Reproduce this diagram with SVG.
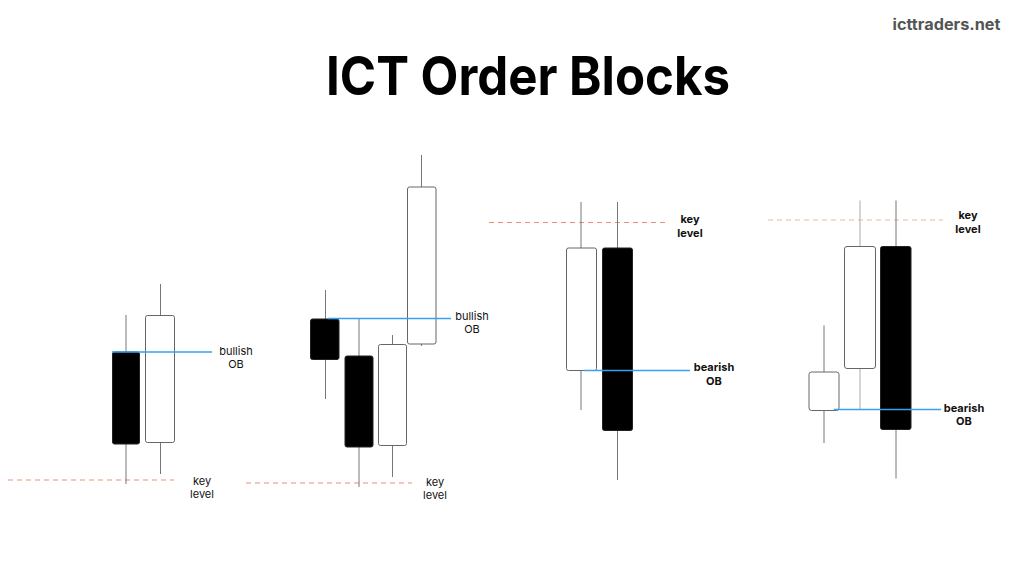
<svg xmlns="http://www.w3.org/2000/svg" width="1024" height="576" viewBox="0 0 1024 576">
<style>
.wick{stroke:#777;stroke-width:1}
.wl{stroke:#aaa;stroke-width:1}
.bull{fill:#fff;stroke:#666;stroke-width:1}
.bear{fill:#000;stroke:#222;stroke-width:1}
.key{stroke:#f28b78;stroke-width:1;stroke-dasharray:5 4;fill:none}
.keyl{stroke:#f6b3a6;stroke-width:1;stroke-dasharray:5 4;fill:none}
.ob{stroke:#3a9ff0;stroke-width:1.5}
.lbl{font-family:Inter,"Liberation Sans",Arial,sans-serif;font-size:11px;fill:#111;text-anchor:middle}
.b{font-weight:bold}
</style>
<rect width="1024" height="576" fill="#fff"/>
<text x="892.5" y="30" font-family="Inter,Liberation Sans,Arial,sans-serif" font-weight="bold" font-size="15.5" fill="#555" textLength="108" lengthAdjust="spacingAndGlyphs">icttraders.net</text>
<text x="326" y="95" font-family="Inter,Liberation Sans,Arial,sans-serif" font-weight="bold" font-size="54" fill="#000" textLength="404" lengthAdjust="spacingAndGlyphs">ICT Order Blocks</text>

<g id="connectors">
<line class="key" x1="8" y1="480" x2="174" y2="480"/>
<line class="key" x1="246" y1="483" x2="412" y2="483"/>
<line class="key" x1="489" y1="222.5" x2="667" y2="222.5"/>
<line class="keyl" x1="768" y1="220" x2="943" y2="220"/>
</g>

<g id="group1">
<line class="wick" x1="126" y1="315" x2="126" y2="484"/>
<rect class="bear" x="112.5" y="352" width="27" height="92" rx="2"/>
<line class="wick" x1="160.5" y1="284" x2="160.5" y2="474"/>
<rect class="bull" x="145.5" y="315.5" width="29" height="127" rx="2"/>
<line class="ob" x1="112" y1="352" x2="212" y2="352"/>
<text class="lbl" x="236" y="355">bullish</text>
<text class="lbl" x="236" y="368">OB</text>
<text class="lbl" x="202" y="485">key</text>
<text class="lbl" x="202" y="498">level</text>
</g>

<g id="group2">
<line class="wick" x1="325.5" y1="290" x2="325.5" y2="399"/>
<rect class="bear" x="310.5" y="319" width="28.5" height="40.5" rx="2"/>
<line class="wick" x1="359" y1="318" x2="359" y2="487"/>
<rect class="bear" x="345" y="356" width="28" height="91" rx="2"/>
<line class="wick" x1="392.5" y1="335" x2="392.5" y2="477"/>
<rect class="bull" x="378.5" y="344.5" width="28" height="101" rx="2"/>
<line class="wick" x1="421.5" y1="155" x2="421.5" y2="346"/>
<rect class="bull" x="407.5" y="187" width="28.5" height="157" rx="2"/>
<line class="ob" x1="328" y1="318.5" x2="451" y2="318.5"/>
<text class="lbl" x="472" y="320">bullish</text>
<text class="lbl" x="472" y="333">OB</text>
<text class="lbl" x="435" y="486">key</text>
<text class="lbl" x="435" y="499">level</text>
</g>

<g id="group3">
<line class="wick" x1="581" y1="202" x2="581" y2="410"/>
<rect class="bull" x="566.5" y="248" width="30" height="122.5" rx="2"/>
<line class="wick" x1="617.5" y1="202" x2="617.5" y2="480"/>
<rect class="bear" x="602.5" y="248" width="30" height="182.5" rx="2"/>
<line class="ob" x1="584" y1="370.5" x2="690" y2="370.5"/>
<text class="lbl b" x="690" y="223">key</text>
<text class="lbl b" x="690" y="237">level</text>
<text class="lbl b" x="714" y="371">bearish</text>
<text class="lbl b" x="714" y="385">OB</text>
</g>

<g id="group4">
<line class="wick" x1="824" y1="325.5" x2="824" y2="443"/>
<rect class="bull" x="809" y="372" width="30" height="38.5" rx="2.5"/>
<line class="wl" x1="860" y1="200.5" x2="860" y2="409"/>
<rect class="bull" x="844.5" y="246.5" width="31" height="122" rx="2.5"/>
<line class="wick" x1="896" y1="200.5" x2="896" y2="478.5"/>
<rect class="bear" x="880.5" y="246.5" width="30.5" height="183" rx="2"/>
<line class="ob" x1="834" y1="409.5" x2="941" y2="409.5"/>
<text class="lbl b" x="968" y="219">key</text>
<text class="lbl b" x="968" y="233">level</text>
<text class="lbl b" x="964" y="412">bearish</text>
<text class="lbl b" x="964" y="425">OB</text>
</g>
</svg>
